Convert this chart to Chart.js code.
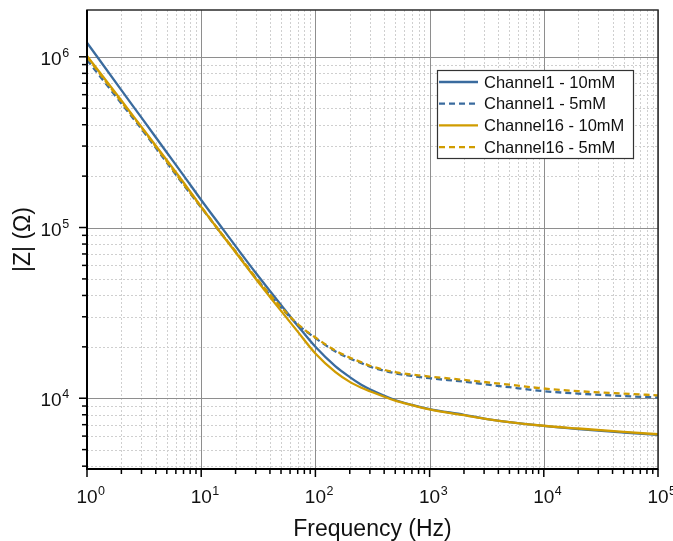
<!DOCTYPE html>
<html lang="en">
<head>
    <meta charset="UTF-8">
    <title>Impedance |Z| vs frequency</title>
    <script src="https://cdn.jsdelivr.net/npm/chart.js"></script>
    <style>
        body { margin: 0; background: #fff; }
    </style>
</head>
<body>
    <canvas id="graficoZ" width="673" height="541"></canvas>

    <script>
        // frequencias (Hz) e modulo da impedancia (ohm)
        const freq = [1, 2, 3, 5, 7, 10, 15, 20, 30, 40, 50, 70, 100, 150, 200, 250, 300, 500, 700,
            1000, 2000, 3000, 5000, 10000, 20000, 50000, 100000];

        const ch1_10mM = [1.21e6, 6.38e5, 4.4e5, 2.75e5, 2.02e5, 1.45e5, 1.007e5, 7.78e4, 5.43e4, 4.25e4,
            3.52e4, 2.66e4, 2.0e4, 1.535e4, 1.33e4, 1.205e4, 1.13e4, 9.77e3, 9.14e3,
            8.63e3, 8.0e3, 7.6e3, 7.25e3, 6.88e3, 6.6e3, 6.3e3, 6.1e3];

        const ch1_5mM = [9.6e5, 5.33e5, 3.78e5, 2.4e5, 1.78e5, 1.31e5, 9.2e4, 7.2e4, 5.07e4, 4.03e4,
            3.4e4, 2.7e4, 2.25e4, 1.88e4, 1.71e4, 1.61e4, 1.53e4, 1.4e4, 1.35e4,
            1.31e4, 1.25e4, 1.21e4, 1.16e4, 1.1e4, 1.065e4, 1.03e4, 1.01e4];

        const ch16_10mM = [1.01e6, 5.55e5, 3.88e5, 2.48e5, 1.84e5, 1.32e5, 9.2e4, 7.16e4, 5.01e4, 3.92e4,
            3.25e4, 2.455e4, 1.83e4, 1.422e4, 1.247e4, 1.156e4, 1.099e4, 9.68e3, 9.12e3,
            8.61e3, 7.95e3, 7.6e3, 7.25e3, 6.9e3, 6.65e3, 6.35e3, 6.15e3];

        const ch16_5mM = [1.0e6, 5.45e5, 3.85e5, 2.44e5, 1.8e5, 1.32e5, 9.25e4, 7.25e4, 5.1e4, 4.05e4,
            3.42e4, 2.72e4, 2.27e4, 1.9e4, 1.73e4, 1.63e4, 1.55e4, 1.42e4, 1.375e4,
            1.34e4, 1.28e4, 1.245e4, 1.2e4, 1.14e4, 1.1e4, 1.065e4, 1.04e4];

        const legendas = ['Channel1 - 10mM', 'Channel1 - 5mM', 'Channel16 - 10mM', 'Channel16 - 5mM'];

        // expoentes dos rotulos dos eixos (10^n)
        const xTickExps = [0, 1, 2, 3, 4, 5];
        const yTickExps = [4, 5, 6];

        const FONTE = "'Liberation Sans', Arial, sans-serif";
        const AZUL = '#3a6b9e';
        const OURO = '#d09c00';

        function pontos(valores) {
            return freq.map((f, i) => ({ x: f, y: valores[i] }));
        }

        // valores 1..9 x 10^n dentro da escala (linhas de grade e marcas)
        function valoresLog(min, max) {
            const lista = [];
            for (let e = Math.floor(Math.log10(min)); e <= Math.ceil(Math.log10(max)); e++) {
                for (let m = 1; m <= 9; m++) {
                    const v = m * Math.pow(10, e);
                    if (v >= min * 0.999 && v <= max * 1.001) lista.push({ v: v, major: m === 1 });
                }
            }
            return lista;
        }

        function rotuloPotencia(ctx, x, y, exp, alinhar) {
            ctx.font = '19px ' + FONTE;
            const w = ctx.measureText('10').width;
            let x0;
            if (alinhar === 'center') x0 = x - w / 2;
            else x0 = x - w - ctx.measureText(String(exp)).width * 0.65;
            ctx.textAlign = 'left';
            ctx.textBaseline = 'alphabetic';
            ctx.fillText('10', x0, y);
            ctx.font = '12.5px ' + FONTE;
            ctx.fillText(String(exp), x0 + w + 0.5, y - 8);
        }

        const eixosPlugin = {
            id: 'eixos',
            beforeDatasetsDraw(chart) {
                const { ctx, chartArea: a, scales: { x, y } } = chart;
                const gx = valoresLog(x.min, x.max);
                const gy = valoresLog(y.min, y.max);
                ctx.save();
                ctx.lineWidth = 1;
                // grade secundaria pontilhada
                ctx.strokeStyle = '#cfcfcf';
                ctx.setLineDash([2, 2]);
                gx.filter(t => !t.major).forEach(t => {
                    const px = Math.round(x.getPixelForValue(t.v)) + 0.5;
                    ctx.beginPath(); ctx.moveTo(px, a.top); ctx.lineTo(px, a.bottom); ctx.stroke();
                });
                gy.filter(t => !t.major).forEach(t => {
                    const py = Math.round(y.getPixelForValue(t.v)) + 0.5;
                    ctx.beginPath(); ctx.moveTo(a.left, py); ctx.lineTo(a.right, py); ctx.stroke();
                });
                // grade principal
                ctx.setLineDash([]);
                ctx.strokeStyle = '#8e8e8e';
                gx.filter(t => t.major).forEach(t => {
                    const px = Math.round(x.getPixelForValue(t.v)) + 0.5;
                    ctx.beginPath(); ctx.moveTo(px, a.top); ctx.lineTo(px, a.bottom); ctx.stroke();
                });
                gy.filter(t => t.major).forEach(t => {
                    const py = Math.round(y.getPixelForValue(t.v)) + 0.5;
                    ctx.beginPath(); ctx.moveTo(a.left, py); ctx.lineTo(a.right, py); ctx.stroke();
                });
                ctx.restore();
            },
            afterDatasetsDraw(chart) {
                const { ctx, chartArea: a, scales: { x, y } } = chart;
                ctx.save();

                // moldura
                ctx.strokeStyle = '#2a2a2a';
                ctx.lineWidth = 1.5;
                ctx.strokeRect(a.left, a.top, a.right - a.left, a.bottom - a.top);
                ctx.strokeStyle = '#000';
                ctx.lineWidth = 2;
                ctx.beginPath();
                ctx.moveTo(a.left, a.top); ctx.lineTo(a.left, a.bottom); ctx.lineTo(a.right, a.bottom);
                ctx.stroke();

                // marcas para fora
                ctx.lineWidth = 1.5;
                valoresLog(x.min, x.max).forEach(t => {
                    const px = x.getPixelForValue(t.v);
                    ctx.beginPath(); ctx.moveTo(px, a.bottom); ctx.lineTo(px, a.bottom + (t.major ? 8 : 5)); ctx.stroke();
                });
                valoresLog(y.min, y.max).forEach(t => {
                    const py = y.getPixelForValue(t.v);
                    ctx.beginPath(); ctx.moveTo(a.left, py); ctx.lineTo(a.left - (t.major ? 8 : 5), py); ctx.stroke();
                });

                // rotulos 10^n
                ctx.fillStyle = '#111';
                xTickExps.forEach(e => {
                    rotuloPotencia(ctx, x.getPixelForValue(Math.pow(10, e)), a.bottom + 34, e, 'center');
                });
                yTickExps.forEach(e => {
                    rotuloPotencia(ctx, a.left - 18.5, y.getPixelForValue(Math.pow(10, e)) + 8, e, 'right');
                });

                // titulos dos eixos
                ctx.font = '23px ' + FONTE;
                ctx.textAlign = 'center';
                ctx.textBaseline = 'alphabetic';
                ctx.fillText('Frequency (Hz)', (a.left + a.right) / 2, 536);
                ctx.save();
                ctx.translate(30, (a.top + a.bottom) / 2);
                ctx.rotate(-Math.PI / 2);
                ctx.fillText('|Z| (\u03A9)', 0, 0);
                ctx.restore();

                // legenda com caixa
                const lx = 437, ly = 70, lw = 196, lh = 88;
                ctx.fillStyle = '#fff';
                ctx.fillRect(lx, ly, lw, lh);
                ctx.strokeStyle = '#333';
                ctx.lineWidth = 1.2;
                ctx.strokeRect(lx + 0.5, ly + 0.5, lw, lh);
                ctx.font = '16.5px ' + FONTE;
                ctx.textAlign = 'left';
                ctx.textBaseline = 'middle';
                chart.data.datasets.forEach((ds, i) => {
                    const cy = ly + 12 + i * 21.7;
                    ctx.strokeStyle = ds.borderColor;
                    ctx.lineWidth = 2.3;
                    ctx.setLineDash(ds.borderDash || []);
                    ctx.beginPath(); ctx.moveTo(lx + 2, cy); ctx.lineTo(lx + 41, cy); ctx.stroke();
                    ctx.setLineDash([]);
                    ctx.fillStyle = '#111';
                    ctx.fillText(ds.label, lx + 47, cy + 1);
                });

                ctx.restore();
            }
        };

        const dados = {
            datasets: [
                { label: legendas[0], data: pontos(ch1_10mM), borderColor: AZUL, order: 3 },
                { label: legendas[1], data: pontos(ch1_5mM), borderColor: AZUL, borderDash: [6, 4], order: 2 },
                { label: legendas[2], data: pontos(ch16_10mM), borderColor: OURO, order: 1 },
                { label: legendas[3], data: pontos(ch16_5mM), borderColor: OURO, borderDash: [6, 4], order: 0 }
            ]
        };

        const config = {
            type: 'line',
            data: dados,
            options: {
                responsive: false,
                animation: false,
                layout: { padding: { left: 87, top: 10, right: 15, bottom: 72 } },
                elements: {
                    point: { radius: 0 },
                    line: { borderWidth: 2.3, cubicInterpolationMode: 'monotone', fill: false }
                },
                scales: {
                    x: { type: 'logarithmic', min: 1, max: 1e5, display: false },
                    y: { type: 'logarithmic', min: 3850, max: 1.88e6, display: false }
                },
                plugins: {
                    legend: { display: false },
                    tooltip: { enabled: false }
                }
            },
            plugins: [eixosPlugin]
        };

        new Chart(document.getElementById('graficoZ').getContext('2d'), config);
    </script>
</body>
</html>
